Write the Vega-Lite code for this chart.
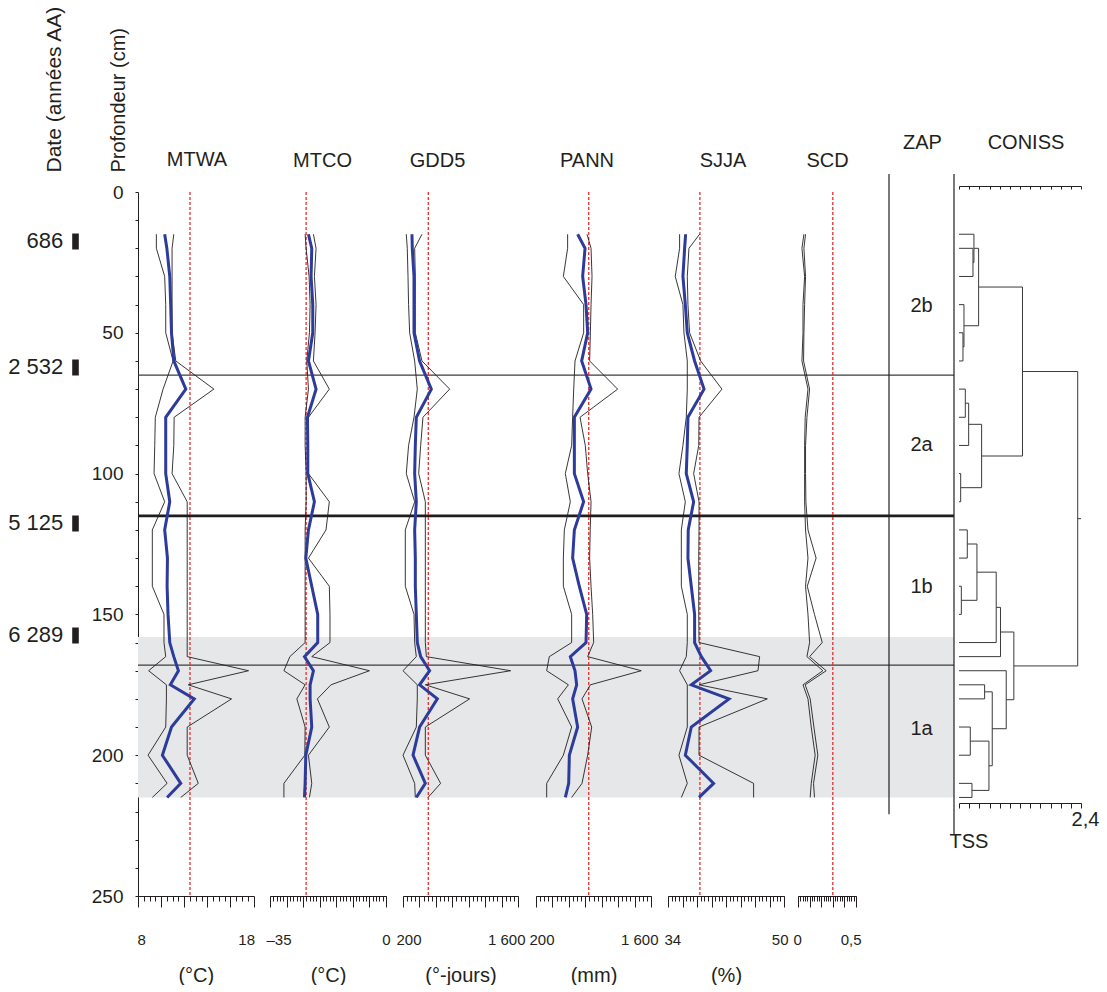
{
"$schema": "https://vega.github.io/schema/vega-lite/v6.json",
"background": "white",
"padding": {"left": 7, "top": 5, "right": 0, "bottom": 0},
"config": {
  "font": "Liberation Sans",
  "view": {"stroke": null},
  "axis": {"labelFont": "Liberation Sans", "titleFont": "Liberation Sans", "labelColor": "#231f20", "titleColor": "#231f20", "domainColor": "#231f20", "tickColor": "#231f20", "grid": false, "titleFontWeight": "normal", "labelOverlap": false},
  "title": {"font": "Liberation Sans", "fontSize": 20, "fontWeight": "normal", "color": "#231f20", "offset": 20, "frame": "group"}
},
"datasets": {
  "band": [{"top": 158, "bottom": 215}],
  "thin": [{"depth": 65}, {"depth": 168}],
  "thick": [{"depth": 115}],
  "refs": [{"panel": "MTWA", "value": 12.5}, {"panel": "MTCO", "value": -24.1}, {"panel": "GDD5", "value": 508}, {"panel": "PANN", "value": 842}, {"panel": "SJJA", "value": 38.4}, {"panel": "SCD", "value": 0.3}],
  "zap": [{"zone": "2b", "depth": 40.5}, {"zone": "2a", "depth": 89.8}, {"zone": "1b", "depth": 140.3}, {"zone": "1a", "depth": 190.7}],
  "recon": [
    {"depth": 15, "MTWA": 10.31, "MTWA_lo": 9.59, "MTWA_hi": 11.1, "MTCO": -23.4, "MTCO_lo": -24.4, "MTCO_hi": -21.9, "GDD5": 309, "GDD5_lo": 240, "GDD5_hi": 431, "PANN": 707, "PANN_lo": 585, "PANN_hi": 821, "SJJA": 36.43, "SJJA_lo": 35.6, "SJJA_hi": 38.36, "SCD_lo": 0.051, "SCD_hi": 0.065},
    {"depth": 20, "MTWA": 10.5, "MTWA_lo": 9.59, "MTWA_hi": 10.95, "MTCO": -22.4, "MTCO_lo": -24.1, "MTCO_hi": -21.1, "GDD5": 313, "GDD5_lo": 252, "GDD5_hi": 342, "PANN": 797, "PANN_lo": 585, "PANN_hi": 870, "SJJA": 36.29, "SJJA_lo": 35.6, "SJJA_hi": 36.89, "SCD_lo": 0.034, "SCD_hi": 0.051},
    {"depth": 30, "MTWA": 10.75, "MTWA_lo": 10.31, "MTWA_hi": 10.95, "MTCO": -22.6, "MTCO_lo": -23.2, "MTCO_hi": -21.6, "GDD5": 334, "GDD5_lo": 261, "GDD5_hi": 350, "PANN": 768, "PANN_lo": 533, "PANN_hi": 882, "SJJA": 36.06, "SJJA_lo": 35.0, "SJJA_hi": 36.66, "SCD_lo": 0.057, "SCD_hi": 0.065},
    {"depth": 40, "MTWA": 10.83, "MTWA_lo": 10.4, "MTWA_hi": 10.95, "MTCO": -22.1, "MTCO_lo": -22.9, "MTCO_hi": -21.1, "GDD5": 334, "GDD5_lo": 268, "GDD5_hi": 350, "PANN": 809, "PANN_lo": 780, "PANN_hi": 870, "SJJA": 36.39, "SJJA_lo": 36.06, "SJJA_hi": 36.75, "SCD_lo": 0.043, "SCD_hi": 0.057},
    {"depth": 50, "MTWA": 10.9, "MTWA_lo": 10.4, "MTWA_hi": 10.95, "MTCO": -22.1, "MTCO_lo": -23.1, "MTCO_hi": -21.4, "GDD5": 334, "GDD5_lo": 281, "GDD5_hi": 350, "PANN": 829, "PANN_lo": 780, "PANN_hi": 862, "SJJA": 36.66, "SJJA_lo": 36.2, "SJJA_hi": 36.98, "SCD_lo": 0.043, "SCD_hi": 0.051},
    {"depth": 60, "MTWA": 11.1, "MTWA_lo": 11.04, "MTWA_hi": 11.27, "MTCO": -23.4, "MTCO_lo": -23.9, "MTCO_hi": -21.9, "GDD5": 402, "GDD5_lo": 342, "GDD5_hi": 431, "PANN": 756, "PANN_lo": 675, "PANN_hi": 853, "SJJA": 37.67, "SJJA_lo": 36.66, "SJJA_hi": 38.5, "SCD_lo": 0.034, "SCD_hi": 0.048},
    {"depth": 70, "MTWA": 12.14, "MTWA_lo": 10.17, "MTWA_hi": 14.57, "MTCO": -21.1, "MTCO_lo": -23.4, "MTCO_hi": -17.1, "GDD5": 545, "GDD5_lo": 374, "GDD5_hi": 768, "PANN": 870, "PANN_lo": 659, "PANN_hi": 1194, "SJJA": 38.97, "SJJA_lo": 36.66, "SJJA_hi": 41.44, "SCD_lo": 0.086, "SCD_hi": 0.1},
    {"depth": 80, "MTWA": 10.4, "MTWA_lo": 9.5, "MTWA_hi": 11.13, "MTCO": -23.7, "MTCO_lo": -24.4, "MTCO_hi": -23.4, "GDD5": 362, "GDD5_lo": 334, "GDD5_hi": 443, "PANN": 667, "PANN_lo": 646, "PANN_hi": 736, "SJJA": 36.75, "SJJA_lo": 36.52, "SJJA_hi": 38.28, "SCD_lo": 0.062, "SCD_hi": 0.077},
    {"depth": 90, "MTWA": 10.4, "MTWA_lo": 9.45, "MTWA_hi": 11.1, "MTCO": -23.6, "MTCO_lo": -24.4, "MTCO_hi": -23.4, "GDD5": 350, "GDD5_lo": 268, "GDD5_hi": 415, "PANN": 667, "PANN_lo": 634, "PANN_hi": 800, "SJJA": 36.66, "SJJA_lo": 36.06, "SJJA_hi": 38.24, "SCD_lo": 0.057, "SCD_hi": 0.065},
    {"depth": 100, "MTWA": 10.4, "MTWA_lo": 9.39, "MTWA_hi": 10.95, "MTCO": -23.6, "MTCO_lo": -24.1, "MTCO_hi": -23.4, "GDD5": 342, "GDD5_lo": 240, "GDD5_hi": 391, "PANN": 667, "PANN_lo": 557, "PANN_hi": 829, "SJJA": 36.52, "SJJA_lo": 35.51, "SJJA_hi": 37.54, "SCD_lo": 0.057, "SCD_hi": 0.065},
    {"depth": 110, "MTWA": 10.75, "MTWA_lo": 10.31, "MTWA_hi": 12.26, "MTCO": -21.6, "MTCO_lo": -24.1, "MTCO_hi": -17.1, "GDD5": 362, "GDD5_lo": 342, "GDD5_hi": 472, "PANN": 780, "PANN_lo": 618, "PANN_hi": 870, "SJJA": 37.54, "SJJA_lo": 36.39, "SJJA_hi": 38.28, "SCD_lo": 0.057, "SCD_hi": 0.068},
    {"depth": 120, "MTWA": 10.31, "MTWA_lo": 9.24, "MTWA_hi": 12.26, "MTCO": -23.4, "MTCO_lo": -24.4, "MTCO_hi": -18.1, "GDD5": 342, "GDD5_lo": 228, "GDD5_hi": 472, "PANN": 667, "PANN_lo": 545, "PANN_hi": 860, "SJJA": 36.79, "SJJA_lo": 35.84, "SJJA_hi": 38.28, "SCD_lo": 0.065, "SCD_hi": 0.086},
    {"depth": 130, "MTWA": 10.55, "MTWA_lo": 9.24, "MTWA_hi": 12.26, "MTCO": -24.2, "MTCO_lo": -24.4, "MTCO_hi": -23.4, "GDD5": 350, "GDD5_lo": 228, "GDD5_hi": 472, "PANN": 646, "PANN_lo": 533, "PANN_hi": 853, "SJJA": 36.75, "SJJA_lo": 35.84, "SJJA_hi": 38.24, "SCD_lo": 0.086, "SCD_hi": 0.156},
    {"depth": 140, "MTWA": 10.52, "MTWA_lo": 9.24, "MTWA_hi": 12.26, "MTCO": -22.4, "MTCO_lo": -24.4, "MTCO_hi": -17.1, "GDD5": 350, "GDD5_lo": 228, "GDD5_hi": 472, "PANN": 727, "PANN_lo": 533, "PANN_hi": 870, "SJJA": 37.21, "SJJA_lo": 35.84, "SJJA_hi": 38.24, "SCD_lo": 0.065, "SCD_hi": 0.08},
    {"depth": 150, "MTWA": 10.6, "MTWA_lo": 10.25, "MTWA_hi": 12.26, "MTCO": -20.6, "MTCO_lo": -24.4, "MTCO_hi": -16.9, "GDD5": 362, "GDD5_lo": 334, "GDD5_hi": 472, "PANN": 817, "PANN_lo": 634, "PANN_hi": 890, "SJJA": 37.67, "SJJA_lo": 36.66, "SJJA_hi": 38.24, "SCD_lo": 0.086, "SCD_hi": 0.142},
    {"depth": 160, "MTWA": 10.75, "MTWA_lo": 10.25, "MTWA_hi": 12.26, "MTCO": -20.6, "MTCO_lo": -24.4, "MTCO_hi": -16.9, "GDD5": 374, "GDD5_lo": 342, "GDD5_hi": 472, "PANN": 809, "PANN_lo": 634, "PANN_hi": 902, "SJJA": 37.67, "SJJA_lo": 36.66, "SJJA_hi": 38.28, "SCD_lo": 0.1, "SCD_hi": 0.209},
    {"depth": 165, "MTWA": 11.1, "MTWA_lo": 10.4, "MTWA_hi": 12.26, "MTCO": -24.6, "MTCO_lo": -29.0, "MTCO_hi": -22.4, "GDD5": 415, "GDD5_lo": 362, "GDD5_hi": 484, "PANN": 618, "PANN_lo": 362, "PANN_hi": 829, "SJJA": 38.6, "SJJA_lo": 36.52, "SJJA_hi": 46.64, "SCD_lo": 0.077, "SCD_hi": 0.1},
    {"depth": 170, "MTWA": 11.5, "MTWA_lo": 8.92, "MTWA_hi": 17.57, "MTCO": -21.9, "MTCO_lo": -30.8, "MTCO_hi": -5.0, "GDD5": 524, "GDD5_lo": 200, "GDD5_hi": 1510, "PANN": 675, "PANN_lo": 330, "PANN_hi": 1481, "SJJA": 39.88, "SJJA_lo": 35.6, "SJJA_hi": 46.41, "SCD_lo": 0.214, "SCD_hi": 0.243},
    {"depth": 175, "MTWA": 10.8, "MTWA_lo": 10.46, "MTWA_hi": 12.35, "MTCO": -22.9, "MTCO_lo": -24.4, "MTCO_hi": -16.6, "GDD5": 402, "GDD5_lo": 374, "GDD5_hi": 472, "PANN": 695, "PANN_lo": 594, "PANN_hi": 862, "SJJA": 37.21, "SJJA_lo": 36.66, "SJJA_hi": 38.28, "SCD_lo": 0.043, "SCD_hi": 0.062},
    {"depth": 180, "MTWA": 12.87, "MTWA_lo": 10.46, "MTWA_hi": 16.1, "MTCO": -22.9, "MTCO_lo": -26.9, "MTCO_hi": -20.7, "GDD5": 618, "GDD5_lo": 374, "GDD5_hi": 1011, "PANN": 646, "PANN_lo": 464, "PANN_hi": 760, "SJJA": 42.41, "SJJA_lo": 36.66, "SJJA_hi": 47.7, "SCD_lo": 0.086, "SCD_hi": 0.105},
    {"depth": 190, "MTWA": 10.9, "MTWA_lo": 10.4, "MTWA_hi": 12.26, "MTCO": -22.4, "MTCO_lo": -24.4, "MTCO_hi": -17.1, "GDD5": 402, "GDD5_lo": 362, "GDD5_hi": 472, "PANN": 707, "PANN_lo": 634, "PANN_hi": 878, "SJJA": 37.21, "SJJA_lo": 36.66, "SJJA_hi": 38.28, "SCD_lo": 0.114, "SCD_hi": 0.137},
    {"depth": 200, "MTWA": 10.11, "MTWA_lo": 8.87, "MTWA_hi": 12.26, "MTCO": -24.2, "MTCO_lo": -24.5, "MTCO_hi": -23.4, "GDD5": 322, "GDD5_lo": 200, "GDD5_hi": 472, "PANN": 606, "PANN_lo": 533, "PANN_hi": 829, "SJJA": 36.39, "SJJA_lo": 35.51, "SJJA_hi": 38.28, "SCD_lo": 0.148, "SCD_hi": 0.171},
    {"depth": 210, "MTWA": 11.7, "MTWA_lo": 10.52, "MTWA_hi": 13.22, "MTCO": -24.4, "MTCO_lo": -30.8, "MTCO_hi": -22.4, "GDD5": 472, "GDD5_lo": 342, "GDD5_hi": 658, "PANN": 598, "PANN_lo": 330, "PANN_hi": 760, "SJJA": 40.29, "SJJA_lo": 36.66, "SJJA_hi": 45.81, "SCD_lo": 0.114, "SCD_hi": 0.134},
    {"depth": 215, "MTWA": 10.52, "MTWA_lo": 9.24, "MTWA_hi": 11.7, "MTCO": -24.6, "MTCO_lo": -30.8, "MTCO_hi": -23.1, "GDD5": 362, "GDD5_lo": 350, "GDD5_hi": 505, "PANN": 557, "PANN_lo": 330, "PANN_hi": 634, "SJJA": 38.28, "SJJA_lo": 35.84, "SJJA_hi": 45.81, "SCD_lo": 0.105, "SCD_hi": 0.142}
  ],
  "dendroH": [
    {"d": 15, "h1": 0, "h2": 0.294}, {"d": 20, "h1": 0, "h2": 0.275}, {"d": 30, "h1": 0, "h2": 0.275}, {"d": 25, "h1": 0.275, "h2": 0.294}, {"d": 20, "h1": 0.294, "h2": 0.386},
    {"d": 40, "h1": 0, "h2": 0.098}, {"d": 50, "h1": 0, "h2": 0.078}, {"d": 60, "h1": 0, "h2": 0.078}, {"d": 55, "h1": 0.078, "h2": 0.098}, {"d": 47.5, "h1": 0.098, "h2": 0.386}, {"d": 33.75, "h1": 0.386, "h2": 1.249},
    {"d": 70, "h1": 0, "h2": 0.124}, {"d": 80, "h1": 0, "h2": 0.124}, {"d": 75, "h1": 0.124, "h2": 0.19}, {"d": 90, "h1": 0, "h2": 0.19}, {"d": 82.5, "h1": 0.19, "h2": 0.445},
    {"d": 100, "h1": 0, "h2": 0.033}, {"d": 110, "h1": 0, "h2": 0.033}, {"d": 105, "h1": 0.033, "h2": 0.445}, {"d": 93.75, "h1": 0.445, "h2": 1.249}, {"d": 63.75, "h1": 1.249, "h2": 2.335},
    {"d": 120, "h1": 0, "h2": 0.163}, {"d": 130, "h1": 0, "h2": 0.163}, {"d": 125, "h1": 0.163, "h2": 0.353}, {"d": 140, "h1": 0, "h2": 0.046}, {"d": 150, "h1": 0, "h2": 0.046}, {"d": 145, "h1": 0.046, "h2": 0.353},
    {"d": 135, "h1": 0.353, "h2": 0.732}, {"d": 160, "h1": 0, "h2": 0.732}, {"d": 147.5, "h1": 0.732, "h2": 0.817}, {"d": 165, "h1": 0, "h2": 0.817}, {"d": 156.25, "h1": 0.817, "h2": 1.079},
    {"d": 170, "h1": 0, "h2": 0.929}, {"d": 175, "h1": 0, "h2": 0.504}, {"d": 180, "h1": 0, "h2": 0.504}, {"d": 177.5, "h1": 0.504, "h2": 0.654},
    {"d": 190, "h1": 0, "h2": 0.222}, {"d": 200, "h1": 0, "h2": 0.222}, {"d": 195, "h1": 0.222, "h2": 0.589}, {"d": 210, "h1": 0, "h2": 0.255}, {"d": 215, "h1": 0, "h2": 0.255}, {"d": 212.5, "h1": 0.255, "h2": 0.589},
    {"d": 203.75, "h1": 0.589, "h2": 0.654}, {"d": 190.6, "h1": 0.654, "h2": 0.929}, {"d": 180.3, "h1": 0.929, "h2": 1.079}, {"d": 168.3, "h1": 1.079, "h2": 2.335}, {"d": 116, "h1": 2.335, "h2": 2.4}
  ],
  "dendroV": [
    {"h": 0.275, "d1": 20, "d2": 30}, {"h": 0.294, "d1": 15, "d2": 25}, {"h": 0.078, "d1": 50, "d2": 60}, {"h": 0.098, "d1": 40, "d2": 55}, {"h": 0.386, "d1": 20, "d2": 47.5},
    {"h": 0.124, "d1": 70, "d2": 80}, {"h": 0.19, "d1": 75, "d2": 90}, {"h": 0.033, "d1": 100, "d2": 110}, {"h": 0.445, "d1": 82.5, "d2": 105}, {"h": 1.249, "d1": 33.75, "d2": 93.75},
    {"h": 0.163, "d1": 120, "d2": 130}, {"h": 0.046, "d1": 140, "d2": 150}, {"h": 0.353, "d1": 125, "d2": 145}, {"h": 0.732, "d1": 135, "d2": 160}, {"h": 0.817, "d1": 147.5, "d2": 165},
    {"h": 0.504, "d1": 175, "d2": 180}, {"h": 0.222, "d1": 190, "d2": 200}, {"h": 0.255, "d1": 210, "d2": 215}, {"h": 0.589, "d1": 195, "d2": 212.5}, {"h": 0.654, "d1": 177.5, "d2": 203.75},
    {"h": 0.929, "d1": 170, "d2": 190.6}, {"h": 1.079, "d1": 156.25, "d2": 180.3}, {"h": 2.335, "d1": 63.75, "d2": 168.3}
  ]
},
"spacing": 0,
"bounds": "flush",
"hconcat": [
   {
    "width": 132, "height": 704,
    "title": {"text": "MTWA", "anchor": "middle", "dx": -7, "dy": 185},
    "resolve": {"axis": {"y": "independent", "x": "independent"}},
    "layer": [
     {"data": {"name": "band"}, "mark": {"type": "rect", "color": "#e6e7e8"},
      "encoding": {"y": {"field": "top", "type": "quantitative", "scale": {"domain": [0, 250], "reverse": true, "nice": false, "zero": false},
        "axis": {"orient": "left", "values": [0,10,20,30,40,50,60,70,80,90,100,110,120,130,140,150,160,170,180,190,200,210,220,230,240,250], "labelExpr": "datum.value % 50 == 0 ? datum.label : ''", "tickSize": 3, "labelPadding": 12, "labelFontSize": 19, "title": "Profondeur (cm)", "titleFontSize": 20, "titleAngle": -90, "titleAlign": "left", "titleBaseline": "middle", "titleX": -20, "titleY": -20}},
       "y2": {"field": "bottom"}}},
     {"data": {"name": "thin"}, "mark": {"type": "rule", "color": "#3c3c3c", "strokeWidth": 1.2}, "encoding": {"y": {"field": "depth", "type": "quantitative", "axis": null}}},
     {"data": {"name": "thick"}, "mark": {"type": "rule", "color": "#1e1e1e", "strokeWidth": 2.6}, "encoding": {"y": {"field": "depth", "type": "quantitative", "axis": null}}},
     {"data": {"name": "refs"}, "transform": [{"filter": "datum.panel == 'MTWA'"}], "mark": {"type": "rule", "color": "#ec2c2c", "strokeWidth": 1.3, "strokeDash": [3, 2]},
      "encoding": {"x": {"field": "value", "type": "quantitative", "scale": {"domain": [8, 18], "range": [0, 115.5], "nice": false, "zero": false},
        "axis": {"orient": "bottom", "values": [8,10,12,14,16,18], "labelExpr": "datum.value == 8 || datum.value == 18 ? datum.label : ''", "tickSize": 11, "labelFlush": true, "labelFlushOffset": 1, "labelPadding": 25, "labelFontSize": 15, "title": "(°C)", "titleFontSize": 20, "titlePadding": 18}}}},
     {"data": {"name": "recon"}, "mark": {"type": "line", "color": "#231f20", "strokeWidth": 0.9}, "encoding": {"x": {"field": "MTWA_lo", "type": "quantitative",
        "axis": {"orient": "bottom", "values": [8,8.5,9,9.5,10,10.5,11,11.5,12,12.5,13,13.5,14,14.5,15,15.5,16,16.5,17,17.5,18], "tickSize": 5, "labels": false, "domain": false, "title": null}},
       "y": {"field": "depth", "type": "quantitative", "axis": null}, "order": {"field": "depth", "type": "quantitative"}}},
     {"data": {"name": "recon"}, "mark": {"type": "line", "color": "#231f20", "strokeWidth": 0.9}, "encoding": {"x": {"field": "MTWA_hi", "type": "quantitative", "axis": null}, "y": {"field": "depth", "type": "quantitative", "axis": null}, "order": {"field": "depth", "type": "quantitative"}}},
     {"data": {"name": "recon"}, "mark": {"type": "line", "color": "#2d3b9b", "strokeWidth": 3}, "encoding": {"x": {"field": "MTWA", "type": "quantitative", "axis": null},
       "y": {"field": "depth", "type": "quantitative",
         "axis": {"orient": "left", "offset": 59.7, "values": [17.4, 62.1, 117.5, 157.3], "labelExpr": "datum.value == 17.4 ? '686' : datum.value == 62.1 ? '2 532' : datum.value == 117.5 ? '5 125' : '6 289'", "domain": false, "tickSize": 6.6, "tickWidth": 16, "tickColor": "#231f20", "labelPadding": 9, "labelFontSize": 22, "title": "Date (années AA)", "titleFontSize": 21, "titleAngle": -90, "titleAlign": "left", "titleBaseline": "middle", "titleX": -24.3, "titleY": -20}},
       "order": {"field": "depth", "type": "quantitative"}}}
    ]
   },
   {
    "width": 133, "height": 704,
    "title": {"text": "MTCO", "anchor": "middle", "dx": -14},
    "resolve": {"axis": {"x": "independent"}},
    "layer": [
     {"data": {"name": "band"}, "mark": {"type": "rect", "color": "#e6e7e8"},
      "encoding": {"y": {"field": "top", "type": "quantitative", "scale": {"domain": [0, 250], "reverse": true, "nice": false, "zero": false},
        "axis": {"orient": "left", "values": [0,10,20,30,40,50,60,70,80,90,100,110,120,130,140,150,160,170,180,190,200,210,220,230,240,250], "labels": false, "tickSize": 3, "title": null}},
       "y2": {"field": "bottom"}}},
     {"data": {"name": "thin"}, "mark": {"type": "rule", "color": "#3c3c3c", "strokeWidth": 1.2}, "encoding": {"y": {"field": "depth", "type": "quantitative", "axis": null}}},
     {"data": {"name": "thick"}, "mark": {"type": "rule", "color": "#1e1e1e", "strokeWidth": 2.6}, "encoding": {"y": {"field": "depth", "type": "quantitative", "axis": null}}},
     {"data": {"name": "refs"}, "transform": [{"filter": "datum.panel == 'MTCO'"}], "mark": {"type": "rule", "color": "#ec2c2c", "strokeWidth": 1.3, "strokeDash": [3, 2]},
      "encoding": {"x": {"field": "value", "type": "quantitative", "scale": {"domain": [-35, 0], "range": [0, 116], "nice": false, "zero": false},
        "axis": {"orient": "bottom", "values": [-35,-30,-25,-20,-15,-10,-5,0], "labelExpr": "datum.value == -35 ? '–35' : datum.value == 0 ? '0' : ''", "tickSize": 11, "labelFlush": true, "labelFlushOffset": 4, "labelPadding": 25, "labelFontSize": 15, "title": "(°C)", "titleFontSize": 20, "titlePadding": 18}}}},
     {"data": {"name": "recon"}, "mark": {"type": "line", "color": "#231f20", "strokeWidth": 0.9}, "encoding": {"x": {"field": "MTCO_lo", "type": "quantitative",
        "axis": {"orient": "bottom", "values": [-35,-34,-33,-32,-31,-30,-29,-28,-27,-26,-25,-24,-23,-22,-21,-20,-19,-18,-17,-16,-15,-14,-13,-12,-11,-10,-9,-8,-7,-6,-5,-4,-3,-2,-1,0], "tickSize": 5, "labels": false, "domain": false, "title": null}},
       "y": {"field": "depth", "type": "quantitative", "axis": null}, "order": {"field": "depth", "type": "quantitative"}}},
     {"data": {"name": "recon"}, "mark": {"type": "line", "color": "#231f20", "strokeWidth": 0.9}, "encoding": {"x": {"field": "MTCO_hi", "type": "quantitative", "axis": null}, "y": {"field": "depth", "type": "quantitative", "axis": null}, "order": {"field": "depth", "type": "quantitative"}}},
     {"data": {"name": "recon"}, "mark": {"type": "line", "color": "#2d3b9b", "strokeWidth": 3}, "encoding": {"x": {"field": "MTCO", "type": "quantitative", "axis": null}, "y": {"field": "depth", "type": "quantitative", "axis": null}, "order": {"field": "depth", "type": "quantitative"}}}
    ]
   },
   {
    "width": 133, "height": 704,
    "title": {"text": "GDD5", "anchor": "middle", "dx": -32},
    "resolve": {"axis": {"x": "independent"}},
    "layer": [
     {"data": {"name": "band"}, "mark": {"type": "rect", "color": "#e6e7e8"},
      "encoding": {"y": {"field": "top", "type": "quantitative", "scale": {"domain": [0, 250], "reverse": true, "nice": false, "zero": false},
        "axis": {"orient": "left", "values": [0,10,20,30,40,50,60,70,80,90,100,110,120,130,140,150,160,170,180,190,200,210,220,230,240,250], "labels": false, "tickSize": 3, "title": null}},
       "y2": {"field": "bottom"}}},
     {"data": {"name": "thin"}, "mark": {"type": "rule", "color": "#3c3c3c", "strokeWidth": 1.2}, "encoding": {"y": {"field": "depth", "type": "quantitative", "axis": null}}},
     {"data": {"name": "thick"}, "mark": {"type": "rule", "color": "#1e1e1e", "strokeWidth": 2.6}, "encoding": {"y": {"field": "depth", "type": "quantitative", "axis": null}}},
     {"data": {"name": "refs"}, "transform": [{"filter": "datum.panel == 'GDD5'"}], "mark": {"type": "rule", "color": "#ec2c2c", "strokeWidth": 1.3, "strokeDash": [3, 2]},
      "encoding": {"x": {"field": "value", "type": "quantitative", "scale": {"domain": [200, 1600], "range": [0, 115], "nice": false, "zero": false},
        "axis": {"orient": "bottom", "values": [200,400,600,800,1000,1200,1400,1600], "labelExpr": "datum.value == 200 ? '200' : datum.value == 1600 ? '1 600' : ''", "tickSize": 11, "labelFlush": true, "labelFlushOffset": 7, "labelPadding": 25, "labelFontSize": 15, "title": "(°-jours)", "titleFontSize": 20, "titlePadding": 18}}}},
     {"data": {"name": "recon"}, "mark": {"type": "line", "color": "#231f20", "strokeWidth": 0.9}, "encoding": {"x": {"field": "GDD5_lo", "type": "quantitative",
        "axis": {"orient": "bottom", "values": [200,250,300,350,400,450,500,550,600,650,700,750,800,850,900,950,1000,1050,1100,1150,1200,1250,1300,1350,1400,1450,1500,1550,1600], "tickSize": 5, "labels": false, "domain": false, "title": null}},
       "y": {"field": "depth", "type": "quantitative", "axis": null}, "order": {"field": "depth", "type": "quantitative"}}},
     {"data": {"name": "recon"}, "mark": {"type": "line", "color": "#231f20", "strokeWidth": 0.9}, "encoding": {"x": {"field": "GDD5_hi", "type": "quantitative", "axis": null}, "y": {"field": "depth", "type": "quantitative", "axis": null}, "order": {"field": "depth", "type": "quantitative"}}},
     {"data": {"name": "recon"}, "mark": {"type": "line", "color": "#2d3b9b", "strokeWidth": 3}, "encoding": {"x": {"field": "GDD5", "type": "quantitative", "axis": null}, "y": {"field": "depth", "type": "quantitative", "axis": null}, "order": {"field": "depth", "type": "quantitative"}}}
    ]
   },
   {
    "width": 132, "height": 704,
    "title": {"text": "PANN", "anchor": "middle", "dx": -15},
    "resolve": {"axis": {"x": "independent"}},
    "layer": [
     {"data": {"name": "band"}, "mark": {"type": "rect", "color": "#e6e7e8"},
      "encoding": {"y": {"field": "top", "type": "quantitative", "scale": {"domain": [0, 250], "reverse": true, "nice": false, "zero": false},
        "axis": {"orient": "left", "values": [0,10,20,30,40,50,60,70,80,90,100,110,120,130,140,150,160,170,180,190,200,210,220,230,240,250], "labels": false, "tickSize": 3, "title": null}},
       "y2": {"field": "bottom"}}},
     {"data": {"name": "thin"}, "mark": {"type": "rule", "color": "#3c3c3c", "strokeWidth": 1.2}, "encoding": {"y": {"field": "depth", "type": "quantitative", "axis": null}}},
     {"data": {"name": "thick"}, "mark": {"type": "rule", "color": "#1e1e1e", "strokeWidth": 2.6}, "encoding": {"y": {"field": "depth", "type": "quantitative", "axis": null}}},
     {"data": {"name": "refs"}, "transform": [{"filter": "datum.panel == 'PANN'"}], "mark": {"type": "rule", "color": "#ec2c2c", "strokeWidth": 1.3, "strokeDash": [3, 2]},
      "encoding": {"x": {"field": "value", "type": "quantitative", "scale": {"domain": [200, 1600], "range": [0, 115], "nice": false, "zero": false},
        "axis": {"orient": "bottom", "values": [200,400,600,800,1000,1200,1400,1600], "labelExpr": "datum.value == 200 ? '200' : datum.value == 1600 ? '1 600' : ''", "tickSize": 11, "labelFlush": true, "labelFlushOffset": 7, "labelPadding": 25, "labelFontSize": 15, "title": "(mm)", "titleFontSize": 20, "titlePadding": 18}}}},
     {"data": {"name": "recon"}, "mark": {"type": "line", "color": "#231f20", "strokeWidth": 0.9}, "encoding": {"x": {"field": "PANN_lo", "type": "quantitative",
        "axis": {"orient": "bottom", "values": [200,250,300,350,400,450,500,550,600,650,700,750,800,850,900,950,1000,1050,1100,1150,1200,1250,1300,1350,1400,1450,1500,1550,1600], "tickSize": 5, "labels": false, "domain": false, "title": null}},
       "y": {"field": "depth", "type": "quantitative", "axis": null}, "order": {"field": "depth", "type": "quantitative"}}},
     {"data": {"name": "recon"}, "mark": {"type": "line", "color": "#231f20", "strokeWidth": 0.9}, "encoding": {"x": {"field": "PANN_hi", "type": "quantitative", "axis": null}, "y": {"field": "depth", "type": "quantitative", "axis": null}, "order": {"field": "depth", "type": "quantitative"}}},
     {"data": {"name": "recon"}, "mark": {"type": "line", "color": "#2d3b9b", "strokeWidth": 3}, "encoding": {"x": {"field": "PANN", "type": "quantitative", "axis": null}, "y": {"field": "depth", "type": "quantitative", "axis": null}, "order": {"field": "depth", "type": "quantitative"}}}
    ]
   },
   {
    "width": 130, "height": 704,
    "title": {"text": "SJJA", "anchor": "middle", "dx": -10},
    "resolve": {"axis": {"x": "independent"}},
    "layer": [
     {"data": {"name": "band"}, "mark": {"type": "rect", "color": "#e6e7e8"},
      "encoding": {"y": {"field": "top", "type": "quantitative", "scale": {"domain": [0, 250], "reverse": true, "nice": false, "zero": false},
        "axis": {"orient": "left", "values": [0,10,20,30,40,50,60,70,80,90,100,110,120,130,140,150,160,170,180,190,200,210,220,230,240,250], "labels": false, "tickSize": 3, "title": null}},
       "y2": {"field": "bottom"}}},
     {"data": {"name": "thin"}, "mark": {"type": "rule", "color": "#3c3c3c", "strokeWidth": 1.2}, "encoding": {"y": {"field": "depth", "type": "quantitative", "axis": null}}},
     {"data": {"name": "thick"}, "mark": {"type": "rule", "color": "#1e1e1e", "strokeWidth": 2.6}, "encoding": {"y": {"field": "depth", "type": "quantitative", "axis": null}}},
     {"data": {"name": "refs"}, "transform": [{"filter": "datum.panel == 'SJJA'"}], "mark": {"type": "rule", "color": "#ec2c2c", "strokeWidth": 1.3, "strokeDash": [3, 2]},
      "encoding": {"x": {"field": "value", "type": "quantitative", "scale": {"domain": [34, 50], "range": [0, 116], "nice": false, "zero": false},
        "axis": {"orient": "bottom", "values": [34,36,38,40,42,44,46,48,50], "labelExpr": "datum.value == 34 || datum.value == 50 ? datum.label : ''", "tickSize": 11, "labelFlush": true, "labelFlushOffset": 4, "labelPadding": 25, "labelFontSize": 15, "title": "(%)", "titleFontSize": 20, "titlePadding": 18}}}},
     {"data": {"name": "recon"}, "mark": {"type": "line", "color": "#231f20", "strokeWidth": 0.9}, "encoding": {"x": {"field": "SJJA_lo", "type": "quantitative",
        "axis": {"orient": "bottom", "values": [34,34.5,35,35.5,36,36.5,37,37.5,38,38.5,39,39.5,40,40.5,41,41.5,42,42.5,43,43.5,44,44.5,45,45.5,46,46.5,47,47.5,48,48.5,49,49.5,50], "tickSize": 5, "labels": false, "domain": false, "title": null}},
       "y": {"field": "depth", "type": "quantitative", "axis": null}, "order": {"field": "depth", "type": "quantitative"}}},
     {"data": {"name": "recon"}, "mark": {"type": "line", "color": "#231f20", "strokeWidth": 0.9}, "encoding": {"x": {"field": "SJJA_hi", "type": "quantitative", "axis": null}, "y": {"field": "depth", "type": "quantitative", "axis": null}, "order": {"field": "depth", "type": "quantitative"}}},
     {"data": {"name": "recon"}, "mark": {"type": "line", "color": "#2d3b9b", "strokeWidth": 3}, "encoding": {"x": {"field": "SJJA", "type": "quantitative", "axis": null}, "y": {"field": "depth", "type": "quantitative", "axis": null}, "order": {"field": "depth", "type": "quantitative"}}}
    ]
   },
   {
    "width": 91, "height": 704,
    "title": {"text": "SCD", "anchor": "middle", "dx": -16},
    "resolve": {"axis": {"x": "independent"}},
    "layer": [
     {"data": {"name": "band"}, "mark": {"type": "rect", "color": "#e6e7e8"},
      "encoding": {"y": {"field": "top", "type": "quantitative", "scale": {"domain": [0, 250], "reverse": true, "nice": false, "zero": false},
        "axis": {"orient": "left", "values": [0,10,20,30,40,50,60,70,80,90,100,110,120,130,140,150,160,170,180,190,200,210,220,230,240,250], "labels": false, "tickSize": 3, "title": null}},
       "y2": {"field": "bottom"}}},
     {"data": {"name": "thin"}, "mark": {"type": "rule", "color": "#3c3c3c", "strokeWidth": 1.2}, "encoding": {"y": {"field": "depth", "type": "quantitative", "axis": null}}},
     {"data": {"name": "thick"}, "mark": {"type": "rule", "color": "#1e1e1e", "strokeWidth": 2.6}, "encoding": {"y": {"field": "depth", "type": "quantitative", "axis": null}}},
     {"data": {"name": "refs"}, "transform": [{"filter": "datum.panel == 'SCD'"}], "mark": {"type": "rule", "color": "#ec2c2c", "strokeWidth": 1.3, "strokeDash": [3, 2]},
      "encoding": {"x": {"field": "value", "type": "quantitative", "scale": {"domain": [0, 0.5], "range": [0, 58], "nice": false, "zero": false},
        "axis": {"orient": "bottom", "values": [0,0.1,0.2,0.3,0.4,0.5], "labelExpr": "datum.value == 0 ? '0' : datum.value == 0.5 ? '0,5' : ''", "tickSize": 11, "labelFlush": true, "labelFlushOffset": 5, "labelPadding": 25, "labelFontSize": 15, "title": null}}}},
     {"data": {"name": "recon"}, "mark": {"type": "line", "color": "#231f20", "strokeWidth": 0.9}, "encoding": {"x": {"field": "SCD_lo", "type": "quantitative",
        "axis": {"orient": "bottom", "values": [0,0.02,0.04,0.06,0.08,0.1,0.12,0.14,0.16,0.18,0.2,0.22,0.24,0.26,0.28,0.3,0.32,0.34,0.36,0.38,0.4,0.42,0.44,0.46,0.48,0.5], "tickSize": 5, "labels": false, "domain": false, "title": null}},
       "y": {"field": "depth", "type": "quantitative", "axis": null}, "order": {"field": "depth", "type": "quantitative"}}},
     {"data": {"name": "recon"}, "mark": {"type": "line", "color": "#231f20", "strokeWidth": 0.9}, "encoding": {"x": {"field": "SCD_hi", "type": "quantitative", "axis": null}, "y": {"field": "depth", "type": "quantitative", "axis": null}, "order": {"field": "depth", "type": "quantitative"}}}
    ]
   },
   {
    "width": 65, "height": 704,
    "title": {"text": "ZAP", "anchor": "middle", "dx": 1},
    "layer": [
     {"data": {"name": "band"}, "mark": {"type": "rect", "color": "#e6e7e8"},
      "encoding": {"y": {"field": "top", "type": "quantitative", "scale": {"domain": [0, 250], "reverse": true, "nice": false, "zero": false}, "axis": null}, "y2": {"field": "bottom"}}},
     {"data": {"name": "thin"}, "mark": {"type": "rule", "color": "#3c3c3c", "strokeWidth": 1.2}, "encoding": {"y": {"field": "depth", "type": "quantitative", "axis": null}}},
     {"data": {"name": "thick"}, "mark": {"type": "rule", "color": "#1e1e1e", "strokeWidth": 2.6}, "encoding": {"y": {"field": "depth", "type": "quantitative", "axis": null}}},
     {"data": {"name": "band"}, "mark": {"type": "rule", "color": "#231f20", "strokeWidth": 1.2},
      "encoding": {"x": {"datum": 0, "type": "quantitative", "scale": {"domain": [0, 1], "nice": false, "zero": false}, "axis": null}, "y": {"datum": -6.4, "type": "quantitative", "axis": null}, "y2": {"datum": 221}}},
     {"data": {"name": "zap"}, "mark": {"type": "text", "fontSize": 20, "font": "Liberation Sans", "color": "#231f20"},
      "encoding": {"y": {"field": "depth", "type": "quantitative", "axis": null}, "text": {"field": "zone"}}}
    ]
   },
 {
  "width": 154, "height": 704,
  "title": {"text": "CONISS", "anchor": "middle", "dx": -5},
  "resolve": {"axis": {"x": "independent"}},
  "layer": [
   {"data": {"name": "dendroH"}, "mark": {"type": "rule", "color": "#3a3a3a", "strokeWidth": 1},
    "encoding": {
     "x": {"field": "h1", "type": "quantitative", "scale": {"domain": [0, 2.4], "range": [5, 127], "nice": false, "zero": false},
       "axis": {"orient": "bottom", "offset": -93, "values": [0,0.2,0.4,0.6,0.8,1,1.2,1.4,1.6,1.8,2,2.2,2.4], "tickSize": 5, "labelExpr": "datum.value == 2.4 ? '2,4' : ''", "labelFontSize": 20, "labelPadding": 1, "labelOffset": 4, "labelFlush": false, "title": "TSS", "titleFontSize": 20, "titleAnchor": "start", "titleAlign": "left", "titleBaseline": "middle", "titleX": -5, "titleY": 38}},
     "x2": {"field": "h2"},
     "y": {"field": "d", "type": "quantitative", "scale": {"domain": [0, 250], "reverse": true, "nice": false, "zero": false}, "axis": null}}},
   {"data": {"name": "dendroV"}, "mark": {"type": "rule", "color": "#3a3a3a", "strokeWidth": 1},
    "encoding": {
     "x": {"field": "h", "type": "quantitative", "axis": {"orient": "top", "offset": 6, "values": [0,0.2,0.4,0.6,0.8,1,1.2,1.4,1.6,1.8,2,2.2,2.4], "tickSize": -3, "labels": false, "title": null}},
     "y": {"field": "d1", "type": "quantitative", "axis": null},
     "y2": {"field": "d2"}}},
   {"data": {"name": "band"}, "mark": {"type": "rule", "color": "#231f20", "strokeWidth": 1.2},
    "encoding": {"x": {"datum": -0.0984, "type": "quantitative", "axis": null}, "y": {"datum": -6.4, "type": "quantitative", "axis": null}, "y2": {"datum": 228}}}
  ]
 }
]
}
